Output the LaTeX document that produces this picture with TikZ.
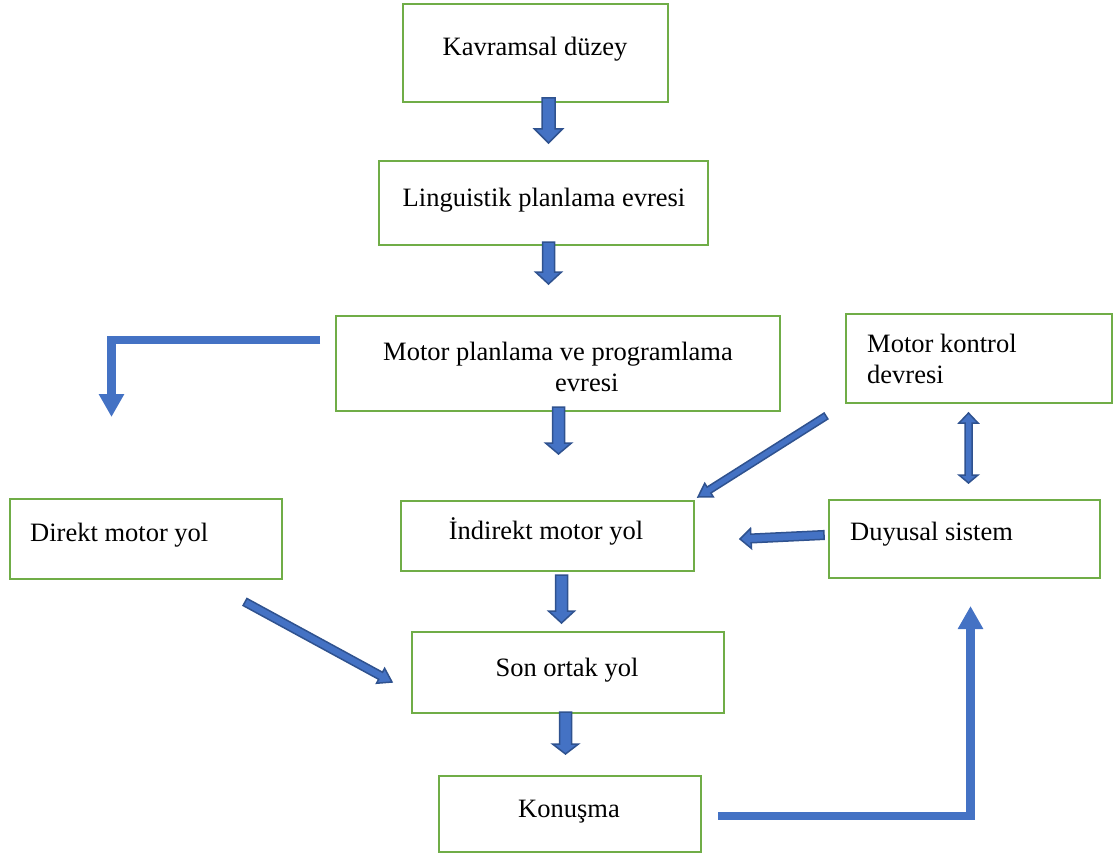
\documentclass[tikz,border=0pt]{standalone}
\usepackage{fontspec}
\setmainfont{Liberation Serif}
\usetikzlibrary{calc,arrows.meta}
\definecolor{boxgreen}{HTML}{70AD47}
\definecolor{arrblue}{HTML}{4472C4}
\definecolor{arrdark}{HTML}{2F528F}
\newcommand\blockarr[5]{%
  \coordinate (hb) at ($(#2)!#5!(#1)$);
  \draw[blockarrow] ($(#1)!#3!90:(#2)$) -- ($(hb)!#3!90:(#2)$) -- ($(hb)!#4!90:(#2)$) -- (#2) -- ($(hb)!#4!-90:(#2)$) -- ($(hb)!#3!-90:(#2)$) -- ($(#1)!#3!-90:(#2)$) -- cycle;}
\begin{document}
\begin{tikzpicture}[x=1pt,y=-1pt,
  box/.style={draw=boxgreen, line width=2.7pt, inner sep=0pt},
  lbl/.style={inner sep=0pt, font=\fontsize{26.5}{32}\selectfont},
  blockarrow/.style={fill=arrblue, draw=arrdark, line width=1.5pt, line join=miter},
  elbow/.style={draw=arrblue, line width=8.5pt, line join=miter, -{Triangle[width=24pt,length=23pt]}}]
\useasboundingbox (0,0) rectangle (1117,856);
% boxes
\node[box, minimum width=265pt, minimum height=98pt] (b1) at (535.5,53) {};
\node[box, minimum width=329pt, minimum height=84pt] (b2) at (543.5,203) {};
\node[box, minimum width=444pt, minimum height=95pt] (b3) at (558,363.5) {};
\node[box, minimum width=266pt, minimum height=89pt] (b4) at (979,358.5) {};
\node[box, minimum width=272pt, minimum height=80pt] (b5) at (146,539) {};
\node[box, minimum width=293pt, minimum height=70pt] (b6) at (547.5,536) {};
\node[box, minimum width=271pt, minimum height=78pt] (b7) at (964.5,539) {};
\node[box, minimum width=312pt, minimum height=81pt] (b8) at (568,672.5) {};
\node[box, minimum width=262pt, minimum height=76pt] (b9) at (570,814) {};
% labels
\node[lbl, anchor=base] (t1) at (535,56) {Kavramsal düzey};
\node[lbl, anchor=base] (t2) at (544,207) {Linguistik planlama evresi};
\node[lbl, anchor=base] (t3a) at (558,360) {Motor planlama ve programlama};
\node[lbl, anchor=base west] (t3b) at (555,391) {evresi};
\node[lbl, anchor=base west] (t4a) at (867,352) {Motor kontrol};
\node[lbl, anchor=base west] (t4b) at (867,383) {devresi};
\node[lbl, anchor=base west] (t5) at (30,541) {Direkt motor yol};
\node[lbl, anchor=base] (t6) at (546,539) {İndirekt motor yol};
\node[lbl, anchor=base west] (t7) at (850,540) {Duyusal sistem};
\node[lbl, anchor=base] (t8) at (567,676) {Son ortak yol};
\node[lbl, anchor=base] (t9) at (569,817) {Konuşma};
% block arrow end points
\coordinate (a1s) at (548.5,98);  \coordinate (a1e) at (548.5,143);
\coordinate (a2s) at (548.5,242); \coordinate (a2e) at (548.5,284);
\coordinate (a3s) at (558.5,407); \coordinate (a3e) at (558.5,454);
\coordinate (a4s) at (561.5,575); \coordinate (a4e) at (561.5,623);
\coordinate (a5s) at (565.5,712); \coordinate (a5e) at (565.5,754);
\coordinate (d1s) at (826,416);   \coordinate (d1e) at (698,497);
\coordinate (l1s) at (824,535);   \coordinate (l1e) at (740,539);
\coordinate (d2s) at (245,602);   \coordinate (d2e) at (392,682);
\blockarr{a1s}{a1e}{6.5pt}{14pt}{14pt}
\blockarr{a2s}{a2e}{6pt}{13pt}{12pt}
\blockarr{a3s}{a3e}{6pt}{13pt}{11pt}
\blockarr{a4s}{a4e}{6pt}{13pt}{12pt}
\blockarr{a5s}{a5e}{6pt}{13pt}{10pt}
\blockarr{d1s}{d1e}{3.5pt}{8pt}{13pt}
\blockarr{l1s}{l1e}{4.3pt}{10pt}{11pt}
\blockarr{d2s}{d2e}{4pt}{8.5pt}{13pt}
% double arrow
\coordinate (v1t) at (968.5,413); \coordinate (v1b) at (968.5,483);
\draw[blockarrow] (v1t) -- ($(v1t)+(9.5,10)$) -- ($(v1t)+(3.5,10)$) -- ($(v1b)+(3.5,-8)$) -- ($(v1b)+(9.5,-8)$) -- (v1b)
  -- ($(v1b)+(-9.5,-8)$) -- ($(v1b)+(-3.5,-8)$) -- ($(v1t)+(-3.5,10)$) -- ($(v1t)+(-9.5,10)$) -- cycle;
% elbow arrows
\coordinate (e1s) at (320,340); \coordinate (e1c) at (111.5,340); \coordinate (e1e) at (111.5,417);
\coordinate (e2s) at (718,816); \coordinate (e2c) at (970.5,816); \coordinate (e2e) at (970.5,606);
\draw[elbow] (e1s) -- (e1c) -- (e1e);
\draw[elbow] (e2s) -- (e2c) -- (e2e);
\end{tikzpicture}
\end{document}
